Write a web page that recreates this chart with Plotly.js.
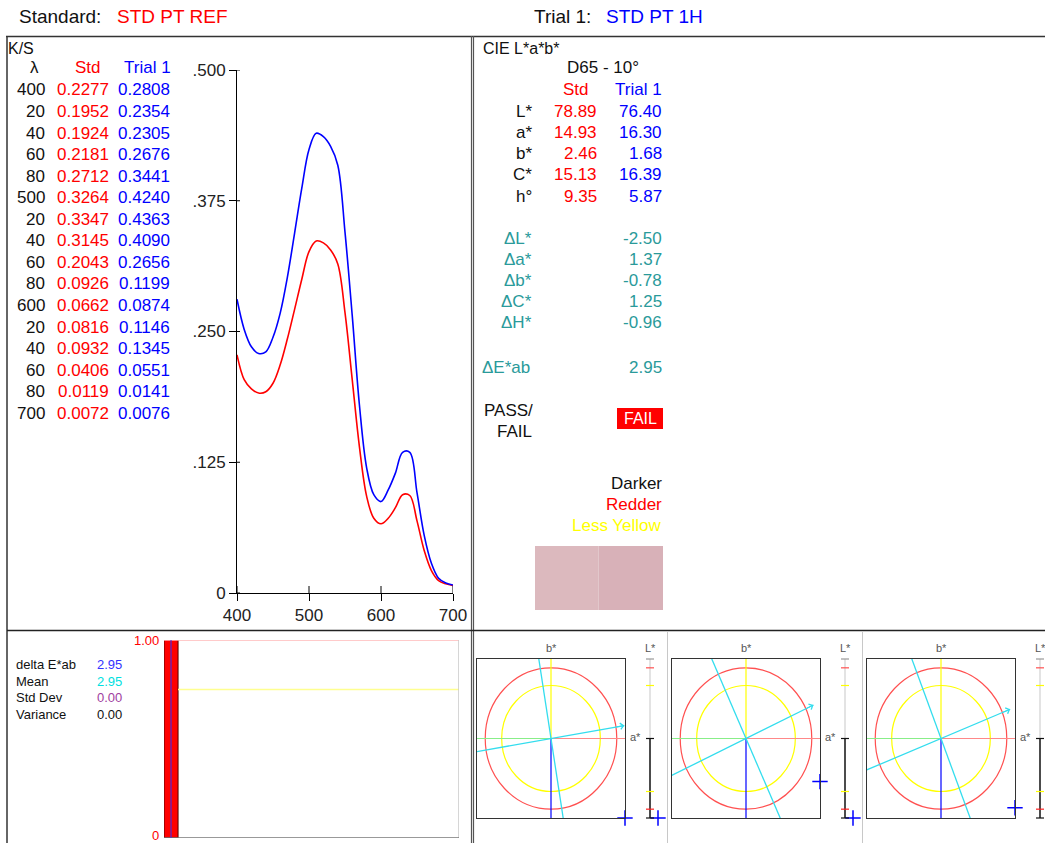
<!DOCTYPE html>
<html><head><meta charset="utf-8">
<script src="https://cdn.plot.ly/plotly-3.0.1.min.js"></script>
<style>html,body{margin:0;padding:0;background:#fff;overflow:hidden}#chart{width:1045px;height:843px}</style>
</head><body><div id="chart"></div>
<script>
// ================= DATA =================
const stdName = 'STD PT REF';
const trialName = 'STD PT 1H';

const tableWavelengths = [400,420,440,460,480,500,520,540,560,580,600,620,640,660,680,700];
const stdKS   = [0.2277,0.1952,0.1924,0.2181,0.2712,0.3264,0.3347,0.3145,0.2043,0.0926,0.0662,0.0816,0.0932,0.0406,0.0119,0.0072];
const trialKS = [0.2808,0.2354,0.2305,0.2676,0.3441,0.4240,0.4363,0.4090,0.2656,0.1199,0.0874,0.1146,0.1345,0.0551,0.0141,0.0076];

const curveWavelengths = [400,410,420,430,440,450,460,470,480,490,500,510,520,530,540,550,560,570,580,590,600,610,620,630,640,650,660,670,680,690,700];
const stdCurve   = [0.2277,0.2040,0.1952,0.1912,0.1924,0.2005,0.2181,0.2430,0.2712,0.3000,0.3264,0.3365,0.3347,0.3280,0.3145,0.2680,0.2043,0.1400,0.0926,0.0715,0.0662,0.0715,0.0816,0.0940,0.0932,0.0690,0.0406,0.0215,0.0119,0.0088,0.0072];
const trialCurve = [0.2808,0.2520,0.2354,0.2290,0.2305,0.2445,0.2676,0.3020,0.3441,0.3870,0.4240,0.4395,0.4363,0.4270,0.4090,0.3450,0.2656,0.1800,0.1199,0.0940,0.0874,0.0985,0.1146,0.1345,0.1345,0.0960,0.0551,0.0285,0.0141,0.0095,0.0076];

const xTickVals = [400,500,600,700];
const yTickVals = [0,0.125,0.25,0.375,0.5];
const yTickText = ['0','.125','.250','.375','.500'];

const illuminantLabel = 'D65 - 10°';
const labNames = ['L*','a*','b*','C*','h°'];
const stdLab   = [78.89,14.93,2.46,15.13,9.35];
const trialLab = [76.40,16.30,1.68,16.39,5.87];
const deltaNames = ['ΔL*','Δa*','Δb*','ΔC*','ΔH*'];
const deltaVals  = [-2.50,1.37,-0.78,1.25,-0.96];
const deltaE = 2.95;
const passFail = 'FAIL';
const descriptors = ['Darker','Redder','Less Yellow'];

const statNames = ['delta E*ab','Mean','Std Dev','Variance'];
const statVals  = [2.95,2.95,0.00,0.00];
const trialDeltaE = [2.95];
const toleranceLevel = 1.00;
const warningLevel = 0.75;

// three a*b* / L* tolerance views (normalised units, 1 = tolerance)
const hueAngles = [9.35, 24.8, 21.5];
const plotDa = [2.28, 1.90, 1.90];
const plotDb = [-1.30, -0.61, -0.98];
const plotDL = [-4.17, -4.00, -4.00];

// ================= LAYOUT HELPERS =================
const W = 1045, H = 843;
const px = x => x / W, py = y => 1 - y / H;
const FONT = 'Liberation Sans, Arial, Helvetica, sans-serif';
const RED = '#ff0000', BLUE = '#0000ff', TEAL = '#2a9a9a';
const ann = [], shapes = [], traces = [];

function txt(text, x, y, o = {}) {
  ann.push(Object.assign({
    text: text, x: px(x), y: py(y), xref: 'paper', yref: 'paper', showarrow: false,
    xanchor: o.anchor || 'left', yanchor: 'middle', borderpad: 0,
    font: { family: FONT, size: o.size || 17, color: o.color || '#111' }
  }, o.extra || {}));
}
function pline(x0, y0, x1, y1, color, width) {
  shapes.push({ type: 'line', xref: 'paper', yref: 'paper', x0: px(x0), y0: py(y0), x1: px(x1), y1: py(y1), line: { color: color, width: width } });
}
function prect(x0, y0, x1, y1, fill) {
  shapes.push({ type: 'rect', xref: 'paper', yref: 'paper', x0: px(x0), y0: py(y0), x1: px(x1), y1: py(y1), fillcolor: fill, line: { width: 0 } });
}

// ================= FRAMES =================
pline(6, 36.5, 1045, 36.5, '#333', 1.5);
pline(7, 36, 7, 843, '#333', 1.5);
pline(471.5, 36, 471.5, 843, '#555', 1.2);
pline(473.5, 36, 473.5, 843, '#555', 1.2);
pline(7, 630.5, 1045, 630.5, '#222', 1.5);
pline(667.5, 631, 667.5, 843, '#c8c8c8', 1);
pline(862.5, 631, 862.5, 843, '#c8c8c8', 1);

// ================= HEADER =================
txt('Standard:', 18, 16, { size: 19 });
txt(stdName, 116, 16, { size: 19, color: RED });
txt('Trial 1:', 533, 16, { size: 19 });
txt(trialName, 605, 16, { size: 19, color: BLUE });

// ================= K/S TABLE =================
txt('K/S', 7, 48, { size: 16 });
txt('λ', 34, 68, { anchor: 'center' });
txt('Std', 102, 68, { anchor: 'right', color: RED });
txt('Trial 1', 172, 68, { anchor: 'right', color: BLUE });
tableWavelengths.forEach((w, i) => {
  const y = 90 + i * 21.55;
  const lab = (w % 100 === 0) ? String(w) : String(w % 100);
  txt(lab, 46, y, { anchor: 'right' });
  txt(stdKS[i].toFixed(4), 110, y, { anchor: 'right', color: RED });
  txt(trialKS[i].toFixed(4), 171, y, { anchor: 'right', color: BLUE });
});

// ================= K/S CURVES =================
traces.push({ x: curveWavelengths, y: stdCurve, type: 'scatter', mode: 'lines', xaxis: 'x', yaxis: 'y',
  line: { color: RED, width: 1.6, shape: 'spline', smoothing: 1 }, hoverinfo: 'skip' });
traces.push({ x: curveWavelengths, y: trialCurve, type: 'scatter', mode: 'lines', xaxis: 'x', yaxis: 'y',
  line: { color: BLUE, width: 1.6, shape: 'spline', smoothing: 1 }, hoverinfo: 'skip' });
// inner halves of crossing ticks
xTickVals.forEach(v => shapes.push({ type: 'line', xref: 'x', yref: 'paper', x0: v, x1: v, y0: py(593), y1: py(586), line: { color: '#000', width: 1 } }));
yTickVals.forEach(v => shapes.push({ type: 'line', xref: 'paper', yref: 'y', x0: px(237), x1: px(240), y0: v, y1: v, line: { color: '#000', width: 1 } }));

// ================= CIE L*a*b* PANEL =================
txt('CIE L*a*b*', 482, 48, { size: 16 });
txt(illuminantLabel, 603, 68, { anchor: 'center' });
txt('Std', 590, 89, { anchor: 'right', color: RED });
txt('Trial 1', 663, 89, { anchor: 'right', color: BLUE });
labNames.forEach((n, i) => {
  const y = 111 + i * 21.3;
  txt(n, 533, y, { anchor: 'right' });
  txt(stdLab[i].toFixed(2), 598, y, { anchor: 'right', color: RED });
  txt(trialLab[i].toFixed(2), 663, y, { anchor: 'right', color: BLUE });
});
deltaNames.forEach((n, i) => {
  const y = 239 + i * 20.8;
  txt(n, 533, y, { anchor: 'right', color: TEAL });
  txt(deltaVals[i].toFixed(2), 663, y, { anchor: 'right', color: TEAL });
});
txt('ΔE*ab', 481, 367, { color: TEAL });
txt(deltaE.toFixed(2), 663, 367, { anchor: 'right', color: TEAL });
txt('PASS/', 483, 410);
txt('FAIL', 533, 431, { anchor: 'right' });
prect(617, 408, 663, 429, '#ff0000');
txt(passFail, 640, 418.5, { anchor: 'center', color: '#ffffff', size: 16 });
const descColors = ['#111111', '#ff0000', '#ffff00'];
descriptors.forEach((d, i) => txt(d, 663, 483 + i * 21.2, { anchor: 'right', color: descColors[i] }));
prect(535, 546, 598.5, 610, '#dcb9be');
prect(598.5, 546, 663, 610, '#d8b1b8');

// ================= STATS + BAR =================
const statColors = ['#3333ff', '#00e0e0', '#a040a0', '#111111'];
statNames.forEach((n, i) => {
  const y = 664.5 + i * 16.6;
  txt(n, 15, y, { size: 13 });
  txt(statVals[i].toFixed(2), 123, y, { anchor: 'right', size: 13, color: statColors[i] });
});
traces.push({ type: 'bar', x: trialDeltaE.map((_, i) => i), y: trialDeltaE, width: 1, xaxis: 'x2', yaxis: 'y2',
  marker: { color: '#ff0000', line: { color: '#500000', width: 1 } }, hoverinfo: 'skip' });
shapes.push({ type: 'line', xref: 'x2', yref: 'y2', x0: -0.5, x1: 20.5, y0: toleranceLevel, y1: toleranceLevel, line: { color: '#ffb8b8', width: 1.5 } });
shapes.push({ type: 'line', xref: 'x2', yref: 'y2', x0: 0.5, x1: 20.5, y0: warningLevel, y1: warningLevel, line: { color: '#ffff90', width: 1.5 } });
shapes.push({ type: 'line', xref: 'x2', yref: 'y2', x0: 20.5, x1: 20.5, y0: 0, y1: toleranceLevel, line: { color: '#c8c8c8', width: 1.5 } });
shapes.push({ type: 'line', xref: 'x2', yref: 'y2', x0: -0.5, x1: 20.5, y0: 0, y1: 0, line: { color: '#777', width: 1.5 } });
shapes.push({ type: 'line', xref: 'x2', yref: 'y2', x0: 0, x1: 0, y0: 0, y1: toleranceLevel, line: { color: '#3030ff', width: 1 } });
// bar-scale labels (kept inside the page)
txt(toleranceLevel.toFixed(2), 160, 640, { anchor: 'right', size: 13, color: RED });
txt('0', 160, 835.5, { anchor: 'right', size: 13, color: RED });

// ================= a*b* + L* VIEWS =================
const layoutAxes = {};
const LIM = 1.125;
const clamp = v => Math.max(-LIM, Math.min(LIM, v));
const boxTop = 659, boxBot = 818;
const yPerUnit = (boxBot - boxTop) / (2 * LIM);
hueAngles.forEach((h, i) => {
  const panelX = 472 + i * 195;
  const bL = panelX + 5, bR = bL + 148, cx = (bL + bR) / 2;
  const barX = panelX + 178;
  const n = 3 + i, m = 6 + i;
  const xa = 'x' + n, ya = 'y' + n, xb = 'x' + m, yb = 'y' + m;
  layoutAxes['xaxis' + n] = { domain: [px(bL), px(bR)], range: [-LIM, LIM], anchor: ya, showline: true, mirror: true,
    linecolor: '#333', linewidth: 1, showticklabels: false, ticks: '', showgrid: false, zeroline: false, fixedrange: true };
  layoutAxes['yaxis' + n] = { domain: [py(boxBot), py(boxTop)], range: [-LIM, LIM], anchor: xa, showline: true, mirror: true,
    linecolor: '#333', linewidth: 1, showticklabels: false, ticks: '', showgrid: false, zeroline: false, fixedrange: true };
  const right = Math.min(barX + 20, W);
  const pad = 6;
  layoutAxes['xaxis' + m] = { domain: [px(barX - 10), px(right)], range: [-10 / 8, (right - barX) / 8], anchor: yb, visible: false, fixedrange: true };
  layoutAxes['yaxis' + m] = { domain: [py(boxBot + pad), py(boxTop - pad)], range: [-LIM - pad / yPerUnit, LIM + pad / yPerUnit], anchor: xb, visible: false, fixedrange: true };

  const L = (x0, y0, x1, y1, color, width) => shapes.push({ type: 'line', xref: xa, yref: ya, x0, y0, x1, y1, line: { color, width } });
  shapes.push({ type: 'circle', xref: xa, yref: ya, x0: -toleranceLevel, x1: toleranceLevel, y0: -toleranceLevel, y1: toleranceLevel, line: { color: '#ff5050', width: 1.2 } });
  shapes.push({ type: 'circle', xref: xa, yref: ya, x0: -warningLevel, x1: warningLevel, y0: -warningLevel, y1: warningLevel, line: { color: '#ffff00', width: 1.2 } });
  L(-LIM, 0, 0, 0, '#88ee88', 1.2);
  L(0, 0, LIM, 0, '#ff8888', 1.2);
  L(0, 0, 0, LIM, '#ffff00', 1.2);
  L(0, 0, 0, -LIM, '#0000ff', 1.2);
  const r = h * Math.PI / 180, c = Math.cos(r), s = Math.sin(r);
  const tip = 1.13;
  L(-3 * c, -3 * s, tip * c, tip * s, '#33ddee', 1.3);
  L(3 * s, -3 * c, -3 * s, 3 * c, '#33ddee', 1.3);
  ann.push({ xref: xa, yref: ya, axref: xa, ayref: ya, x: tip * c, y: tip * s, ax: (tip - 0.15) * c, ay: (tip - 0.15) * s,
    text: '', showarrow: true, arrowhead: 4, arrowsize: 1.2, arrowwidth: 1, arrowcolor: '#33ddee' });
  traces.push({ type: 'scatter', mode: 'markers', x: [clamp(plotDa[i])], y: [clamp(plotDb[i])], xaxis: xa, yaxis: ya, cliponaxis: false,
    marker: { symbol: 'cross-thin', size: 11, line: { color: BLUE, width: 1.5 } }, hoverinfo: 'skip' });

  // L* bar
  const B = (x0, y0, x1, y1, color, width) => shapes.push({ type: 'line', xref: xb, yref: yb, x0, y0, x1, y1, line: { color, width } });
  B(0, 0, 0, LIM, '#d0d0d0', 1.2);
  B(0, -LIM, 0, 0, '#111', 1.5);
  [[LIM, '#999'], [toleranceLevel, '#ff5050'], [warningLevel, '#ffff00'], [0, '#111'], [-warningLevel, '#ffff00'], [-toleranceLevel, '#ff2020'], [-LIM, '#111']]
    .forEach(([v, col]) => B(-0.5, v, 0.5, v, col, 1.2));
  traces.push({ type: 'scatter', mode: 'markers', x: [1], y: [clamp(plotDL[i])], xaxis: xb, yaxis: yb, cliponaxis: false,
    marker: { symbol: 'cross-thin', size: 11, line: { color: BLUE, width: 1.5 } }, hoverinfo: 'skip' });

  txt('b*', cx, 648, { anchor: 'center', size: 11, color: '#555' });
  txt('a*', bR + 4, 737, { size: 11, color: '#555' });
  txt('L*', barX, 648, { anchor: 'center', size: 11, color: '#555' });
});

// ================= LAYOUT =================
const layout = Object.assign({
  width: W, height: H, margin: { l: 0, r: 0, t: 0, b: 0 },
  paper_bgcolor: '#ffffff', plot_bgcolor: 'rgba(0,0,0,0)', showlegend: false, hovermode: false,
  font: { family: FONT, color: '#111' },
  xaxis: { domain: [px(237), px(453)], range: [400, 700], anchor: 'y', tickvals: xTickVals, ticks: 'outside', ticklen: 7, tickcolor: '#000',
    showline: true, linecolor: '#000', linewidth: 1, showgrid: false, zeroline: false, tickfont: { family: FONT, size: 17, color: '#222' }, fixedrange: true },
  yaxis: { domain: [py(593), py(70)], range: [0, 0.5], anchor: 'x', tickvals: yTickVals, ticktext: yTickText, ticks: 'outside', ticklen: 7, tickcolor: '#000',
    showline: true, linecolor: '#000', linewidth: 1, showgrid: false, zeroline: false, tickfont: { family: FONT, size: 17, color: '#222' }, fixedrange: true },
  xaxis2: { domain: [px(164), px(459)], range: [-0.5, 20.5], anchor: 'y2', showticklabels: false, ticks: '', showgrid: false, zeroline: false, showline: false, fixedrange: true },
  yaxis2: { domain: [py(838), py(640)], range: [0, toleranceLevel], anchor: 'x2', showticklabels: false,
    ticks: '', showgrid: false, zeroline: false, showline: false, fixedrange: true },
  shapes: shapes, annotations: ann
}, layoutAxes);

Plotly.newPlot('chart', traces, layout, { staticPlot: true, displayModeBar: false });
</script></body></html>
